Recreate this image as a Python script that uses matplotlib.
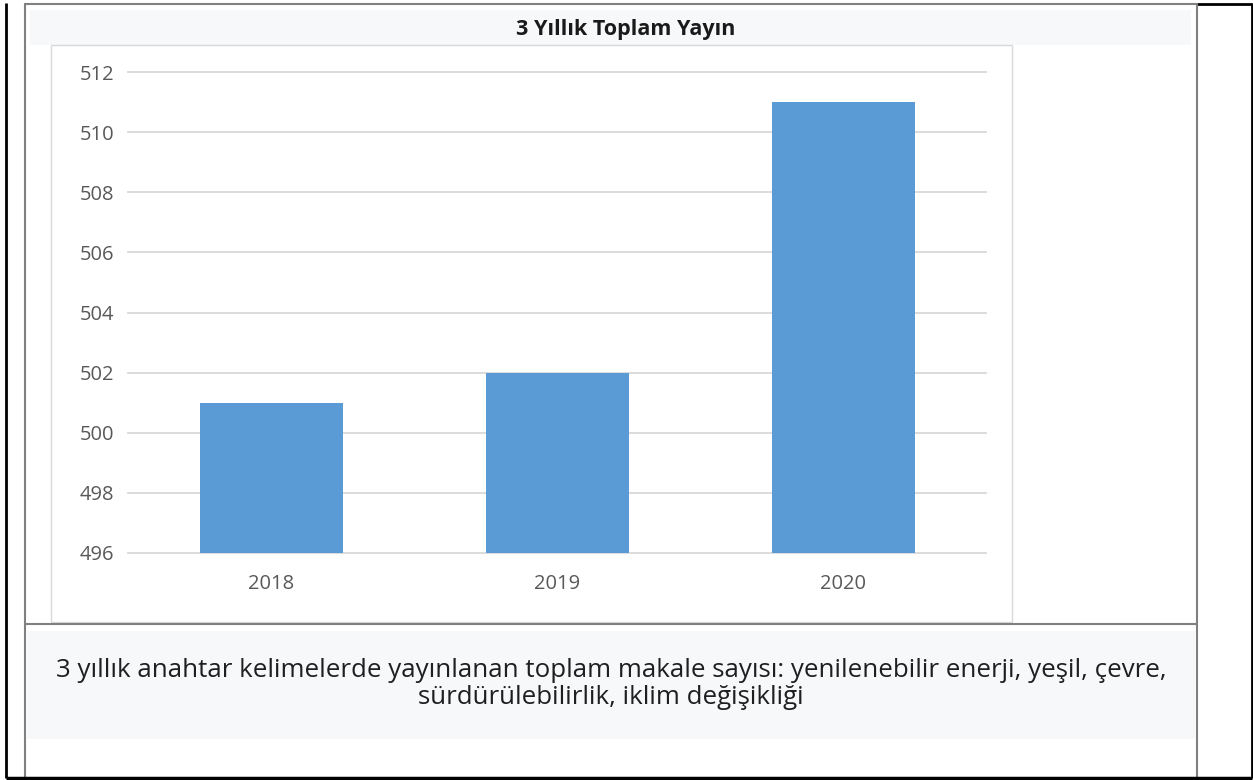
import matplotlib
matplotlib.use('Agg')
import matplotlib.pyplot as plt
from matplotlib.patches import Rectangle
from matplotlib.lines import Line2D

years = ['2018', '2019', '2020']
counts = [501, 502, 511]
yticks = [496, 498, 500, 502, 504, 506, 508, 510, 512]
title = '3 Yıllık Toplam Yayın'
caption = ('3 yıllık anahtar kelimelerde yayınlanan toplam makale sayısı: yenilenebilir enerji, yeşil, çevre,\n'
           'sürdürülebilirlik, iklim değişikliği')

plt.rcParams['font.family'] = ['Open Sans', 'DejaVu Sans']

W, H = 1253, 780
fig = plt.figure(figsize=(W / 100, H / 100), dpi=100)

def fx(x):
    return x / W

def fy(y):
    return 1 - y / H

def hline(x0, x1, y, color, lw):
    fig.add_artist(Line2D([fx(x0), fx(x1)], [fy(y), fy(y)], color=color, lw=lw,
                          transform=fig.transFigure, solid_capstyle='butt', zorder=3))

def vline(x, y0, y1, color, lw):
    fig.add_artist(Line2D([fx(x), fx(x)], [fy(y0), fy(y1)], color=color, lw=lw,
                          transform=fig.transFigure, solid_capstyle='butt', zorder=3))

def box(x0, y0, x1, y1, **kw):
    fig.add_artist(Rectangle((fx(x0), fy(y1)), fx(x1) - fx(x0), fy(y0) - fy(y1),
                             transform=fig.transFigure, zorder=-1, **kw))

# shaded bands for title and caption
box(30, 10, 1191, 45, facecolor='#f7f8fa', edgecolor='none')
box(27, 631, 1195, 739, facecolor='#f7f8fa', edgecolor='none')
# chart frame
box(51, 45, 1012, 622, facecolor='white', edgecolor='#d9d9d9', lw=1)

# table borders
hline(25, 1197, 3.5, '#808080', 1.5)
hline(1197, 1252, 3.5, 'black', 2)
vline(6, 3, 778, 'black', 2)
vline(25, 3, 778, '#808080', 1.5)
vline(1197, 3, 778, '#808080', 1.5)
vline(1252, 3, 778, 'black', 2)
hline(25, 1197, 623.5, '#808080', 1.5)
hline(6, 1252, 778, 'black', 2.5)

fig.text(fx(626), fy(30), title, ha='center', va='center', fontsize=15.5,
         fontweight='bold', color='#1a1a1a')
fig.text(fx(611), fy(684), caption, ha='center', va='center', fontsize=18.6,
         linespacing=1.1, color='#1f1f1f')

ax = fig.add_axes([fx(128), fy(553), fx(986) - fx(128), fy(72) - fy(553)])
ax.bar(range(len(years)), counts, width=0.5, color='#5b9bd5', zorder=2)
ax.set_xlim(-0.5, len(years) - 0.5)
ax.set_ylim(yticks[0], yticks[-1])
ax.set_yticks(yticks)
ax.set_xticks(range(len(years)))
ax.set_xticklabels(years)
ax.yaxis.grid(True, color='#d9d9d9', lw=1.3, zorder=0)
ax.set_axisbelow(True)
for s in ax.spines.values():
    s.set_visible(False)
ax.tick_params(length=0, labelsize=14.5, colors='#595959')
ax.tick_params(axis='x', pad=15)
ax.tick_params(axis='y', pad=10)
ax.patch.set_alpha(0)
for gl in ax.get_ygridlines():
    gl.set_clip_on(False)

fig.savefig('out.png', dpi=100)
